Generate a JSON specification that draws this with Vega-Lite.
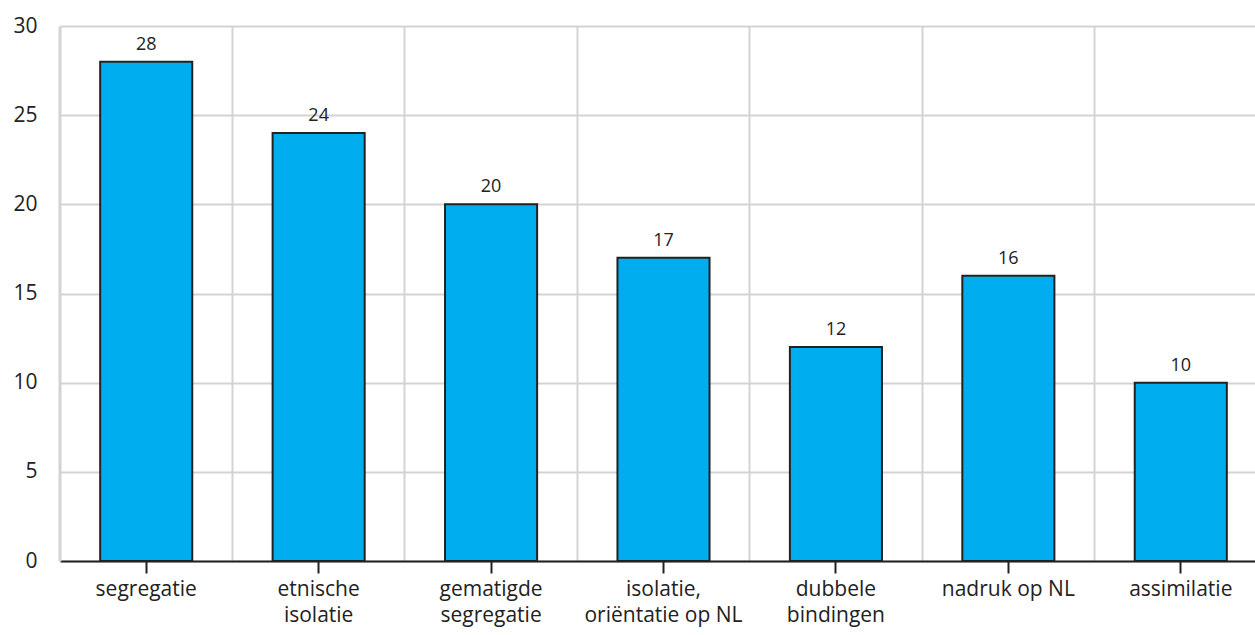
{
  "$schema": "https://vega.github.io/schema/vega-lite/v6.json",
  "autosize": {"type": "none"},
  "width": 1195,
  "height": 535,
  "padding": {"left": 60, "top": 26, "right": 0, "bottom": 74},
  "config": {
    "view": {"stroke": null},
    "font": "Open Sans",
    "axis": {"labelFont": "Open Sans", "labelColor": "#222222", "gridColor": "#d3d3d3", "gridWidth": 2}
  },
  "data": {
    "values": [
      {"categorie": "segregatie", "waarde": 28},
      {"categorie": "etnische isolatie", "waarde": 24},
      {"categorie": "gematigde segregatie", "waarde": 20},
      {"categorie": "isolatie, oriëntatie op NL", "waarde": 17},
      {"categorie": "dubbele bindingen", "waarde": 12},
      {"categorie": "nadruk op NL", "waarde": 16},
      {"categorie": "assimilatie", "waarde": 10}
    ]
  },
  "encoding": {
    "x": {
      "field": "categorie",
      "type": "nominal",
      "sort": null,
      "scale": {"range": [0, 1207], "paddingInner": 0.466, "paddingOuter": 0.233}
    },
    "y": {
      "field": "waarde",
      "type": "quantitative",
      "scale": {"domain": [0, 30]}
    }
  },
  "layer": [
    {
      "mark": {"type": "bar", "color": "#00aeef", "stroke": "#222222", "strokeWidth": 2},
      "encoding": {
        "x": {
          "field": "categorie", "type": "nominal", "sort": null,
          "axis": {"title": null, "orient": "bottom", "labels": false, "ticks": false, "domain": false, "grid": true, "bandPosition": -0.4364}
        },
        "y": {
          "field": "waarde", "type": "quantitative",
          "axis": {"title": null, "values": [0, 5, 10, 15, 20, 25, 30], "ticks": false, "domain": true, "domainColor": "#d3d3d3", "domainWidth": 2, "labelPadding": 23, "labelFontSize": 21, "grid": true}
        }
      }
    },
    {
      "mark": {"type": "text", "dy": -17, "fontSize": 18, "color": "#222222"},
      "encoding": {
        "x": {
          "field": "categorie", "type": "nominal", "sort": null,
          "axis": {
            "title": null, "orient": "bottom", "grid": false, "labelAngle": 0, "labelFontSize": 21, "labelPadding": 5,
            "labelLineHeight": 26, "labelLimit": 300,
            "domainColor": "#222222", "domainWidth": 2, "tickColor": "#222222", "tickWidth": 2, "tickSize": 12,
            "labelExpr": "datum.value == 'nadruk op NL' ? datum.value : split(replace(datum.value, ' ', '|'), '|')"
          }
        },
        "text": {"field": "waarde", "type": "quantitative"}
      }
    }
  ],
  "resolve": {"axis": {"x": "independent"}}
}
